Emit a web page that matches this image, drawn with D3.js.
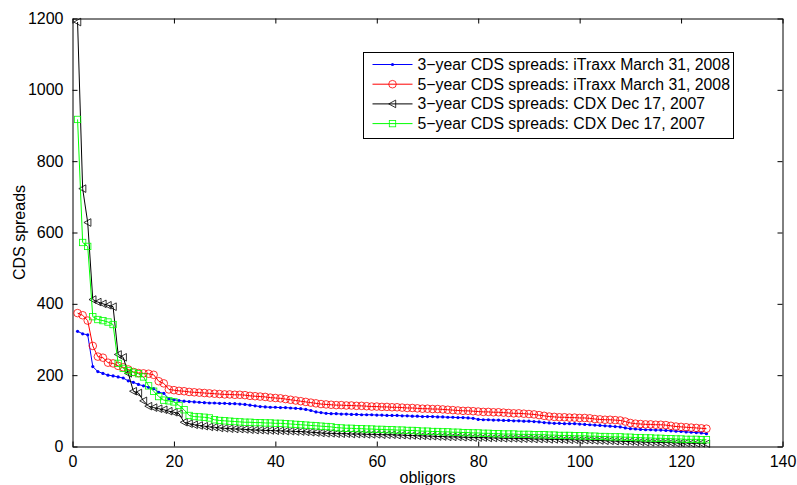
<!DOCTYPE html>
<html>
<head>
<meta charset="UTF-8">
<title>CDS spreads</title>
<style>
  body { margin: 0; background: #fff; }
  svg text { font-family: "Liberation Sans", Arial, sans-serif; fill: #000; }
</style>
</head>
<body>
<div id="chart"></div>
<script src="https://cdn.jsdelivr.net/npm/d3@7"></script>
<script>
// 3-year CDS spreads: iTraxx March 31, 2008
var itraxx3y = [
  323, 316, 313, 224, 210, 205, 200, 198, 195, 192,
  184, 180, 174, 170, 166, 162, 152, 149, 134, 131,
  129, 127, 126, 125, 124, 123, 122, 122, 121, 121,
  120, 120, 119, 118, 116, 114, 112, 111, 110, 110,
  109, 109, 108, 107, 106, 104, 101, 97, 95, 93,
  92, 92, 91, 91, 90, 90, 89, 89, 89, 88,
  88, 87, 87, 87, 86, 86, 85, 85, 84, 84,
  84, 83, 83, 82, 82, 81, 81, 80, 79, 76,
  75, 75, 74, 74, 73, 73, 72, 72, 71, 71,
  70, 69, 67, 66, 65, 65, 64, 64, 64, 63,
  62, 61, 60, 59, 58, 57, 56, 55, 52, 50,
  49, 48, 47, 47, 46, 46, 45, 44, 43, 42,
  41, 40, 39, 38, 36
];
// 5-year CDS spreads: iTraxx March 31, 2008
var itraxx5y = [
  374, 368, 353, 282, 252, 249, 235, 233, 226, 222,
  216, 209, 206, 205, 204, 201, 183, 177, 160, 158,
  156, 155, 153, 152, 151, 150, 149, 148, 147, 146,
  146, 145, 145, 144, 142, 141, 140, 139, 137, 136,
  135, 133, 131, 129, 127, 125, 123, 121, 119, 118,
  117, 116, 116, 115, 115, 114, 114, 113, 112, 112,
  111, 111, 110, 110, 109, 108, 108, 107, 106, 106,
  105, 105, 104, 103, 102, 101, 100, 100, 99, 98,
  97, 97, 96, 96, 95, 94, 93, 93, 92, 91,
  90, 88, 86, 84, 83, 82, 82, 81, 81, 80,
  80, 79, 77, 76, 75, 75, 74, 73, 70, 66,
  64, 63, 62, 62, 61, 61, 60, 58, 56, 55,
  54, 53, 52, 51, 50
];
// 3-year CDS spreads: CDX Dec 17, 2007
var cdx3y = [
  1190, 723, 628, 412, 405, 400, 396, 392, 258, 250,
  205, 155, 150, 128, 113, 109, 106, 103, 99, 96,
  92, 68, 64, 61, 59, 57, 55, 54, 52, 51,
  50, 49, 49, 48, 47, 46, 46, 45, 45, 44,
  44, 43, 43, 42, 42, 41, 40, 39, 38, 37,
  37, 36, 36, 36, 35, 35, 35, 34, 34, 34,
  33, 33, 33, 32, 32, 31, 31, 30, 30, 29,
  29, 28, 28, 27, 27, 27, 26, 26, 25, 25,
  25, 24, 24, 24, 23, 23, 23, 22, 22, 22,
  21, 21, 21, 20, 20, 20, 19, 19, 19, 18,
  18, 18, 17, 17, 16, 16, 15, 15, 14, 14,
  13, 13, 12, 12, 12, 11, 11, 11, 10, 10,
  10, 9, 9, 9, 8
];
// 5-year CDS spreads: CDX Dec 17, 2007
var cdx5y = [
  917, 572, 561, 364, 356, 353, 349, 342, 233, 219,
  213, 208, 204, 195, 170, 155, 140, 130, 128, 125,
  115, 103, 87, 84, 83, 82, 80, 75, 73, 72,
  71, 70, 69, 68, 68, 67, 67, 66, 66, 65,
  65, 64, 63, 62, 61, 60, 59, 58, 57, 56,
  55, 53, 52, 51, 51, 50, 50, 49, 49, 48,
  48, 47, 47, 46, 46, 45, 45, 44, 43, 43,
  42, 42, 41, 41, 40, 40, 39, 39, 38, 38,
  37, 37, 36, 36, 35, 35, 35, 34, 34, 34,
  33, 33, 33, 32, 32, 31, 31, 31, 30, 30,
  30, 29, 29, 28, 28, 27, 27, 27, 26, 26,
  25, 25, 24, 24, 23, 23, 22, 22, 21, 21,
  20, 20, 20, 19, 19
];

var seriesNames = [
  "3\u2212year CDS spreads: iTraxx March 31, 2008",
  "5\u2212year CDS spreads: iTraxx March 31, 2008",
  "3\u2212year CDS spreads: CDX Dec 17, 2007",
  "5\u2212year CDS spreads: CDX Dec 17, 2007"
];
var seriesColors = ["#0000ff", "#ff0000", "#000000", "#00ff00"];
var seriesMarkers = ["dot", "circle", "triangle", "square"];
var xTicks = [0, 20, 40, 60, 80, 100, 120, 140];
var yTicks = [0, 200, 400, 600, 800, 1000, 1200];

var width = 797, height = 485;
var margin = {top: 18.5, right: 14.5, bottom: 38.5, left: 72.5};
var innerW = width - margin.left - margin.right;
var innerH = height - margin.top - margin.bottom;
var fontSize = '16px';

var svg = d3.select('#chart').append('svg')
  .attr('width', width).attr('height', height);

var g = svg.append('g')
  .attr('transform', 'translate(' + margin.left + ',' + margin.top + ')');

var x = d3.scaleLinear().domain([0, 140]).range([0, innerW]);
var y = d3.scaleLinear().domain([0, 1200]).range([innerH, 0]);

// axes with inward ticks, box on all sides
var axisStyle = function(sel) {
  sel.select('.domain').attr('stroke', '#000');
  sel.selectAll('.tick line').attr('stroke', '#000');
  sel.selectAll('.tick text').attr('font-size', fontSize)
    .attr('font-family', '"Liberation Sans", Arial, sans-serif');
};

g.append('g')
  .attr('transform', 'translate(0,' + innerH + ')')
  .call(d3.axisBottom(x).tickValues(xTicks).tickFormat(d3.format('d'))
    .tickSize(-5).tickPadding(9).tickSizeOuter(0))
  .call(axisStyle);
g.append('g')
  .call(d3.axisTop(x).tickValues(xTicks).tickSize(-5).tickFormat('').tickSizeOuter(0))
  .call(axisStyle);
g.append('g')
  .call(d3.axisLeft(y).tickValues(yTicks).tickFormat(d3.format('d'))
    .tickSize(-5).tickPadding(9).tickSizeOuter(0))
  .call(axisStyle);
g.append('g')
  .attr('transform', 'translate(' + innerW + ',0)')
  .call(d3.axisRight(y).tickValues(yTicks).tickSize(-5).tickFormat('').tickSizeOuter(0))
  .call(axisStyle);

// axis labels
svg.append('text')
  .attr('x', margin.left + innerW / 2).attr('y', 483)
  .attr('text-anchor', 'middle').attr('font-size', fontSize)
  .text('obligors');
svg.append('text')
  .attr('transform', 'translate(25,' + (margin.top + innerH / 2) + ') rotate(-90)')
  .attr('text-anchor', 'middle').attr('font-size', fontSize)
  .text('CDS spreads');

var allSeries = [itraxx3y, itraxx5y, cdx3y, cdx5y];

function drawMarker(sel, type, color) {
  if (type === 'dot') {
    sel.append('circle').attr('r', 1.6).attr('fill', color).attr('stroke', 'none');
  } else if (type === 'circle') {
    sel.append('circle').attr('r', 3.8).attr('fill', 'none').attr('stroke', color).attr('stroke-width', 0.8);
  } else if (type === 'triangle') {
    sel.append('path').attr('d', 'M-3.8,0L3.2,-3.8L3.2,3.8Z')
      .attr('fill', 'none').attr('stroke', color).attr('stroke-width', 0.8);
  } else if (type === 'square') {
    sel.append('rect').attr('x', -3.2).attr('y', -3.2).attr('width', 6.4).attr('height', 6.4)
      .attr('fill', 'none').attr('stroke', color).attr('stroke-width', 0.8);
  }
}

var line = d3.line()
  .x(function(d, i) { return x(i + 1); })
  .y(function(d) { return y(d); });

allSeries.forEach(function(data, k) {
  var sg = g.append('g');
  sg.append('path').datum(data)
    .attr('d', line)
    .attr('fill', 'none')
    .attr('stroke', seriesColors[k])
    .attr('stroke-width', 1);
  var pts = sg.selectAll('g.pt').data(data).enter().append('g')
    .attr('class', 'pt')
    .attr('transform', function(d, i) { return 'translate(' + x(i + 1) + ',' + y(d) + ')'; });
  drawMarker(pts, seriesMarkers[k], seriesColors[k]);
});

// legend
var legend = svg.append('g').attr('transform', 'translate(363.5,52.5)');
legend.append('rect')
  .attr('width', 370).attr('height', 86)
  .attr('fill', '#fff').attr('stroke', '#000').attr('stroke-width', 1);
seriesNames.forEach(function(name, k) {
  var row = legend.append('g').attr('transform', 'translate(0,' + (12 + k * 19.7) + ')');
  row.append('line').attr('x1', 9).attr('x2', 49).attr('y1', 0).attr('y2', 0)
    .attr('stroke', seriesColors[k]).attr('stroke-width', 1);
  var m = row.append('g').attr('transform', 'translate(29,0)');
  drawMarker(m, seriesMarkers[k], seriesColors[k]);
  row.append('text').attr('x', 54).attr('y', 5.5)
    .attr('font-size', '15.8px').text(name);
});
</script>
</body>
</html>
